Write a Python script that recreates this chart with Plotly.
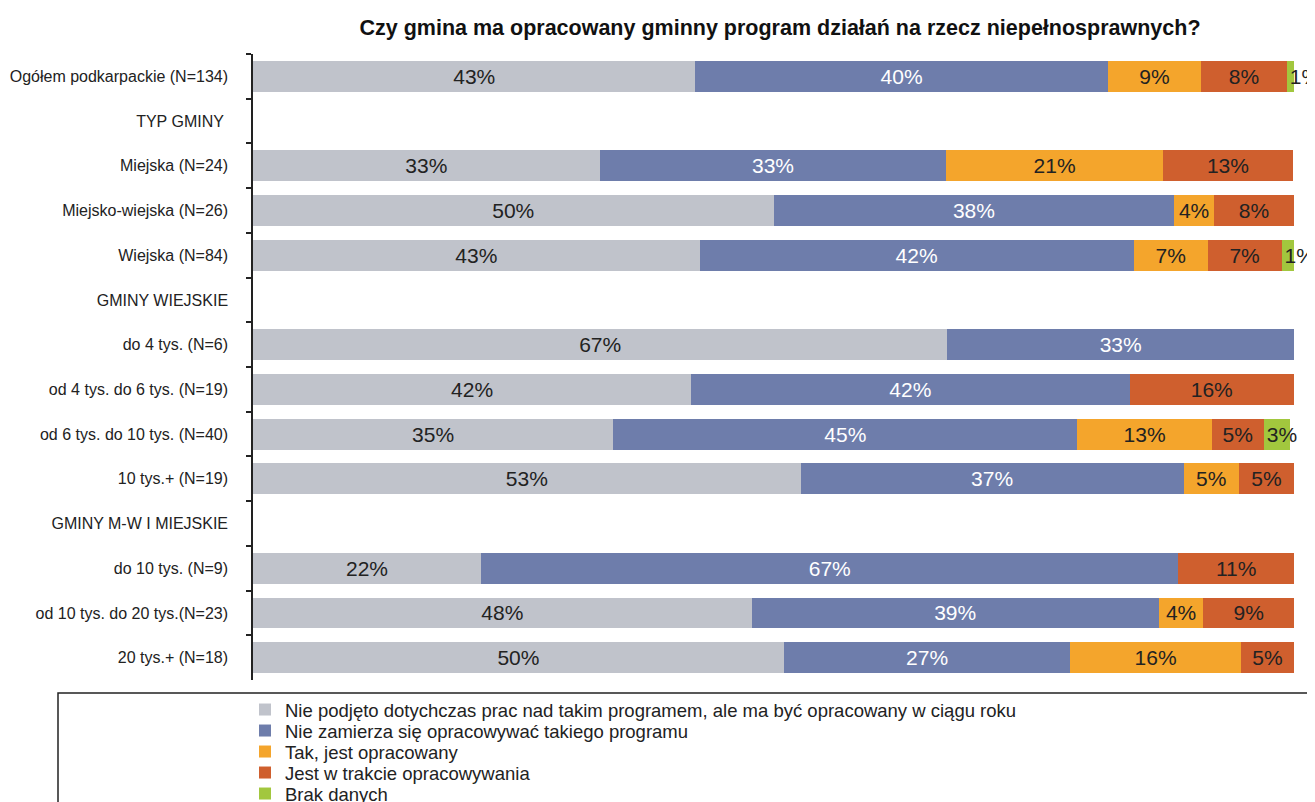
import plotly.graph_objects as go

categories = [
    "Ogółem podkarpackie (N=134)",
    "TYP GMINY ",
    "Miejska (N=24)",
    "Miejsko-wiejska (N=26)",
    "Wiejska (N=84)",
    "GMINY WIEJSKIE",
    "do 4 tys. (N=6)",
    "od 4 tys. do 6 tys. (N=19)",
    "od 6 tys. do 10 tys. (N=40)",
    "10 tys.+ (N=19)",
    "GMINY M-W I MIEJSKIE",
    "do 10 tys. (N=9)",
    "od 10 tys. do 20 tys.(N=23)",
    "20 tys.+ (N=18)",
]

series_names = [
    "Nie podjęto dotychczas prac nad takim programem, ale ma być opracowany w ciągu roku",
    "Nie zamierza się opracowywać takiego programu",
    "Tak, jest opracowany",
    "Jest w trakcie opracowywania",
    "Brak danych",
]

# bar lengths (percent)
nie_podjeto = [42.5, None, 33.3, 50.0, 42.9, None, 66.7, 42.1, 34.6, 52.6, None, 21.9, 47.9, 51.0]
nie_zamierza = [39.6, None, 33.3, 38.5, 41.7, None, 33.3, 42.1, 44.6, 36.8, None, 67.0, 39.1, 27.5]
tak = [9.0, None, 20.8, 3.8, 7.1, None, None, None, 12.9, 5.3, None, None, 4.3, 16.4]
w_trakcie = [8.2, None, 12.5, 7.7, 7.1, None, None, 15.8, 5.0, 5.3, None, 11.1, 8.7, 5.1]
brak = [0.7, None, None, None, 1.2, None, None, None, 2.5, None, None, None, None, None]

# labels printed on the bars
lab_nie_podjeto = [43, None, 33, 50, 43, None, 67, 42, 35, 53, None, 22, 48, 50]
lab_nie_zamierza = [40, None, 33, 38, 42, None, 33, 42, 45, 37, None, 67, 39, 27]
lab_tak = [9, None, 21, 4, 7, None, None, None, 13, 5, None, None, 4, 16]
lab_w_trakcie = [8, None, 13, 8, 7, None, None, 16, 5, 5, None, 11, 9, 5]
lab_brak = [1, None, None, None, 1, None, None, None, 3, None, None, None, None, None]

colors = ["#c0c3cb", "#6e7dab", "#f4a52c", "#cf5f2e", "#a2c73e"]
text_colors = ["#222222", "#ffffff", "#222222", "#222222", "#222222"]
anchors = ["middle", "middle", "middle", "middle", "start"]

values = [nie_podjeto, nie_zamierza, tak, w_trakcie, brak]
labels = [lab_nie_podjeto, lab_nie_zamierza, lab_tak, lab_w_trakcie, lab_brak]

FONT = "Liberation Sans, Arial, sans-serif"
OFF = 8  # page body margin in the browser
W, H = 1315 - OFF, 802 - OFF

fig = go.Figure()
legend_ids = ["legend", "legend2", "legend3", "legend4", "legend5"]
for name, vals, labs, col, tcol, anc, lid in zip(series_names, values, labels, colors,
                                                  text_colors, anchors, legend_ids):
    fig.add_trace(go.Bar(
        y=categories,
        x=vals,
        name=name,
        orientation="h",
        legend=lid,
        marker=dict(color=col, line=dict(width=0)),
        text=[f"{v}%" if v is not None else "" for v in labs],
        textposition="inside",
        insidetextanchor=anc,
        textangle=0,
        constraintext="none",
        cliponaxis=False,
        textfont=dict(family=FONT, size=21, color=tcol),
        hoverinfo="skip",
    ))

legend_rows_px = [710, 731, 752, 773, 794]
legend_layouts = {}
for lid, ypx in zip(legend_ids, legend_rows_px):
    legend_layouts[lid] = dict(
        x=(245 - OFF) / W, xanchor="left", xref="container",
        y=1 - (ypx - OFF) / H, yanchor="middle", yref="container",
        font=dict(family=FONT, size=18.5, color="#222222"),
        bgcolor="rgba(0,0,0,0)",
        itemclick=False, itemdoubleclick=False,
    )

fig.update_layout(
    barmode="stack",
    bargap=0.31,
    width=W,
    height=H,
    margin=dict(l=253 - OFF, r=1315 - 1294, t=54 - OFF, b=802 - 680, autoexpand=False),
    paper_bgcolor="white",
    plot_bgcolor="white",
    font=dict(family=FONT, color="#222222"),
    title=dict(
        text="<b>Czy gmina ma opracowany gminny program działań na rzecz niepełnosprawnych?</b>",
        x=(780 - OFF) / W, xanchor="center", xref="container",
        y=1 - (27 - OFF) / H, yanchor="middle", yref="container",
        font=dict(family=FONT, size=21.5, color="#111111"),
    ),
    xaxis=dict(range=[0, 100], visible=False, fixedrange=True),
    yaxis=dict(
        autorange="reversed",
        automargin=False,
        showline=True, linecolor="#222222", linewidth=1.5,
        ticks="outside", ticklen=5, tickcolor="#222222", tickwidth=1.5,
        tickson="boundaries",
        ticklabelstandoff=20,
        tickfont=dict(family=FONT, size=16, color="#222222"),
        showgrid=False, zeroline=False,
    ),
    showlegend=True,
    shapes=[dict(
        type="rect", xref="paper", yref="paper",
        x0=(58 - 253) / 1041, x1=(1309 - 253) / 1041,
        y0=-0.5, y1=(680 - 693) / 626,
        line=dict(color="#222222", width=1.5),
        fillcolor="rgba(0,0,0,0)",
    )],
    **legend_layouts,
)

fig.write_html("out.html")
